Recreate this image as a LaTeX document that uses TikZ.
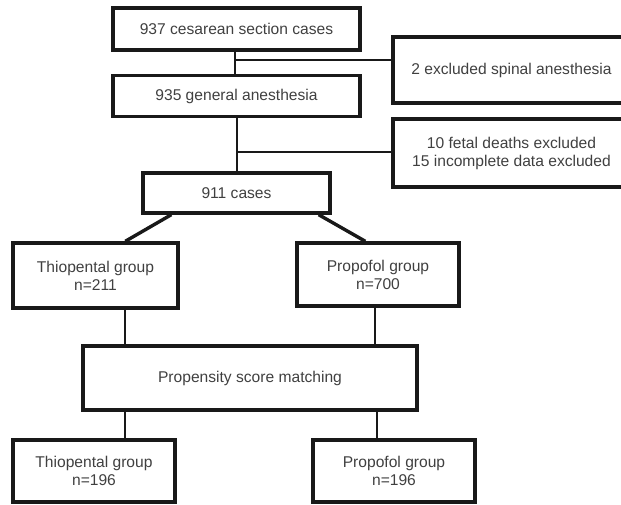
\documentclass[tikz,border=0pt]{standalone}
\usepackage{fontspec}
\setmainfont{Liberation Sans}
\usepackage{tikz}
\usetikzlibrary{arrows}

\begin{document}
\begin{tikzpicture}[x=1pt,y=-1pt,
	box/.style={draw=black!90,line width=3.4pt,inner sep=0pt,align=center,text=black!75,
		font=\fontsize{15.6}{18}\selectfont},
	link/.style={draw=black!90,line width=2.6pt}]
		\clip (0,0) rectangle (621,505);
	
		\node[box,minimum width=247pt,minimum height=42pt] (A) at (236.5,29) {937 cesarean section cases};
		\node[box,minimum width=247pt,minimum height=41pt] (B) at (236.5,96) {935 general anesthesia};
		\node[box,minimum width=187pt,minimum height=40pt] (C) at (236.5,193) {911 cases};
		\node[box,minimum width=237pt,minimum height=66pt] (E1) at (511.5,70) {2 excluded spinal anesthesia};
		\node[box,minimum width=237pt,minimum height=68pt] (E2) at (511.5,153) {10 fetal deaths excluded\\15 incomplete data excluded};
		\node[box,minimum width=165pt,minimum height=65pt] (T1) at (95.5,275.5) {Thiopental group\\n=211};
		\node[box,minimum width=162pt,minimum height=63pt] (P1) at (378,274.5) {Propofol group\\n=700};
		\node[box,minimum width=334pt,minimum height=64pt] (M) at (250,378) {Propensity score matching};
		\node[box,minimum width=162pt,minimum height=62pt] (T2) at (94,471) {Thiopental group\\n=196};
		\node[box,minimum width=162pt,minimum height=62pt] (P2) at (394,471) {Propofol group\\n=196};
		
		\coordinate (J1) at (235,60);
		\coordinate (J2) at (237,152);
		
		\draw [link] (A.south -| J1) -- (B.north -| J1);
		\draw [link] (J1) -- (J1 -| E1.west);
		\draw [link] (B.south -| J2) -- (C.north -| J2);
		\draw [link] (J2) -- (J2 -| E2.west);
		\draw [link,line width=3.4pt] ([xshift=30pt]C.south west) -- ([xshift=114pt]T1.north west);
		\draw [link,line width=3.4pt] ([xshift=-13pt]C.south east) -- ([xshift=70pt]P1.north west);
		\draw [link] ([xshift=29.5pt]T1.south) -- ([xshift=29.5pt]T1.south |- M.north);
		\draw [link] ([xshift=-3pt]P1.south) -- ([xshift=-3pt]P1.south |- M.north);
		\draw [link] ([xshift=31pt]T2.north |- M.south) -- ([xshift=31pt]T2.north);
		\draw [link] ([xshift=-17pt]P2.north |- M.south) -- ([xshift=-17pt]P2.north);
	\end{tikzpicture}
\end{document}
